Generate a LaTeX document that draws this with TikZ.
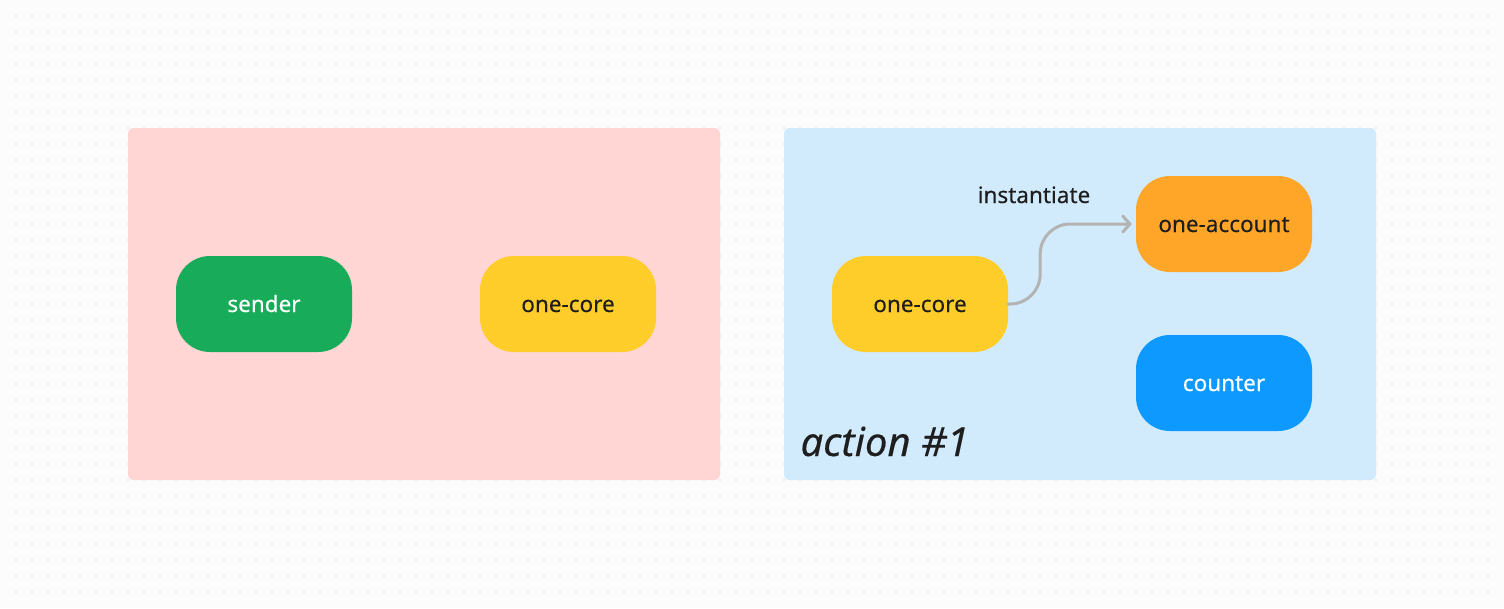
\documentclass[tikz,border=0pt]{standalone}
\usepackage{fontspec}
\setmainfont{Noto Sans}[FakeBold = 0.3]
\usepackage{tikz}
\usetikzlibrary{math,arrows.meta}
\definecolor{pageBg}{HTML}{FCFCFC}
\definecolor{gridDot}{HTML}{E4E4E4}
\definecolor{boxRed}{HTML}{FFD6D4}
\definecolor{boxBlue}{HTML}{D1EBFD}
\definecolor{pillGreen}{HTML}{18AC5A}
\definecolor{pillYellow}{HTML}{FFCD29}
\definecolor{pillOrange}{HTML}{FFA629}
\definecolor{pillBlue}{HTML}{0D99FF}
\definecolor{inkDark}{HTML}{1E1E1E}
\definecolor{wireGray}{HTML}{B3B3B3}
\tikzset{
  label text/.style = {font = \fontsize{22.5}{27}\selectfont,
    text height = 16pt, text depth = 0pt},
  pill/.style = {label text, rounded corners = 34pt, minimum width = 176pt,
    minimum height = 96pt, inner sep = 0pt},
  pillLight/.style = {pill, text = white},
  pillDark/.style = {pill, text = inkDark}
}

\begin{document}
\begin{tikzpicture}[x = 1pt, y = -1pt]
    \tikzmath{
      \pw = 1504;
      \ph = 608;
      \gap = 16;
      \boxW = 592;
      \boxH = 352;
      \boxTop = 128;
      \leftX = 128;
      \rightX = 784;
      \midY = 304;
    }
    \useasboundingbox (0, 0) rectangle (\pw, \ph);
    \fill[pageBg] (0, 0) rectangle (\pw, \ph);
    \foreach \i in {1,...,93} {
      \foreach \j in {1,...,37} {
        \fill[gridDot] (\i*\gap, \j*\gap) circle [radius = 1.1];
      }
    }
    \fill[boxRed, rounded corners = 5pt]
    (\leftX, \boxTop) rectangle ++(\boxW, \boxH);
    \fill[boxBlue, rounded corners = 5pt]
    (\rightX, \boxTop) rectangle ++(\boxW, \boxH);
    \node[pillLight, fill = pillGreen] (sender) at (264, \midY) {sender};
    \node[pillDark, fill = pillYellow] (coreA) at (568, \midY) {one-core};
    \node[pillDark, fill = pillYellow] (coreB) at (920, \midY) {one-core};
    \node[pillDark, fill = pillOrange] (account) at (1224, 224) {one-account};
    \node[pillLight, fill = pillBlue] (counter) at (1224, 383) {counter};
    \node[label text, text = inkDark] (instLabel) at (1034, 195) {instantiate};
    \node[text = inkDark, anchor = base west,
      font = \fontsize{40}{48}\selectfont\itshape]
    (action) at (797, 456) {action \#1};
    \draw[wireGray, line width = 3pt, line cap = round,
      rounded corners = 30pt, shorten > = 4pt,
      -{Straight Barb[length = 7pt, width = 16pt, line cap = round]}]
    (coreB.east) -- ++(32, 0) |- (account.west);
  \end{tikzpicture}
\end{document}
